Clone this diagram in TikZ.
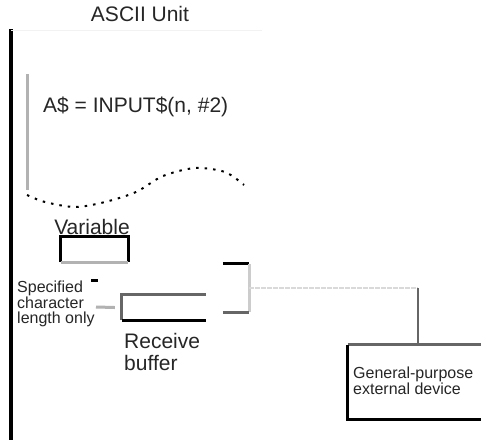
\documentclass[tikz,border=0pt]{standalone}
\usepackage{fontspec}
\setmainfont{Liberation Sans}
\usetikzlibrary{positioning}

\begin{document}
\begin{tikzpicture}[x=1pt, y=-1pt,
  label/.style={inner sep=0pt, text=black!85, font=\fontsize{21}{22}\selectfont},
  small/.style={inner sep=0pt, text=black!85, align=left, font=\fontsize{16}{15.5}\selectfont},
  box/.style={draw=none, inner sep=0pt},
  edge/.style={line width=3pt},
  link/.style={line width=2pt},
]
\useasboundingbox[fill=white] (0,0) rectangle (481,440);

% unit frame
\node[label] (title) at (140,14) {ASCII Unit};
\draw[line width=3.5pt, black] (11,29) -- (11,440);
\draw[line width=1pt, black!5] (11,30) -- (262,30);

% statement
\draw[edge, black!30] (27,74) -- (27,190);
\node[label, anchor=west] (stmt) at (43,107) {A\$ = INPUT\$(n, \#2)};
\draw[link, dash pattern=on 2.5pt off 6pt] plot[smooth] coordinates
  {(27,195) (45,202) (75,207) (105,202) (136,192) (163,176) (195,168) (225,172) (244,185)};

% variable
\node[label] (varlabel) at (92,227) {Variable};
\node[box, minimum width=67pt, minimum height=25pt] (varbox) at (94.5,249.5) {};
\draw[edge] (varbox.south west) -- (varbox.north west) -- (varbox.north east) -- (varbox.south east);
\draw[edge, black!30] (varbox.south west) -- (varbox.south east);

% receive buffer
\node[small, anchor=north west] (spec) at (17,281) {Specified\\character\\length only};
\node[box, minimum width=84pt, minimum height=25pt] (buf) at (164,307.5) {};
\draw[edge, black!60] (buf.south west) -- (buf.north west) -- (buf.north east);
\draw[edge] (buf.south west) -- (buf.south east);
\node[label, anchor=north west, align=left] (buflabel) at (124,333) {Receive\\buffer};
\draw[edge] (91,280) -- (98,280);
\draw[edge, black!30] (96,307) -- ([xshift=-7pt]buf.west);

% port and device
\node[box, minimum width=26pt, minimum height=48pt] (port) at (236,288) {};
\draw[edge] (port.north west) -- (port.north east);
\draw[edge, black!20] (port.north east) -- (port.south east);
\draw[edge, black!60] (port.south west) -- (port.south east);

\node[box, minimum width=136pt, minimum height=74pt] (device) at (416,382) {};
\draw[edge, black!60] (device.north west) -- (device.north east);
\draw[edge] (device.north west) -- (device.south west) -- (device.south east);
\node[small, anchor=west] (devlabel) at (353,381) {General-purpose\\external device};

\coordinate (bend) at (418,288);
\draw[link, black!15, dash pattern=on 5pt off 1pt] (port.east) -- (bend);
\draw[link, black!60] (bend) -- (bend |- device.north);
\end{tikzpicture}
\end{document}
